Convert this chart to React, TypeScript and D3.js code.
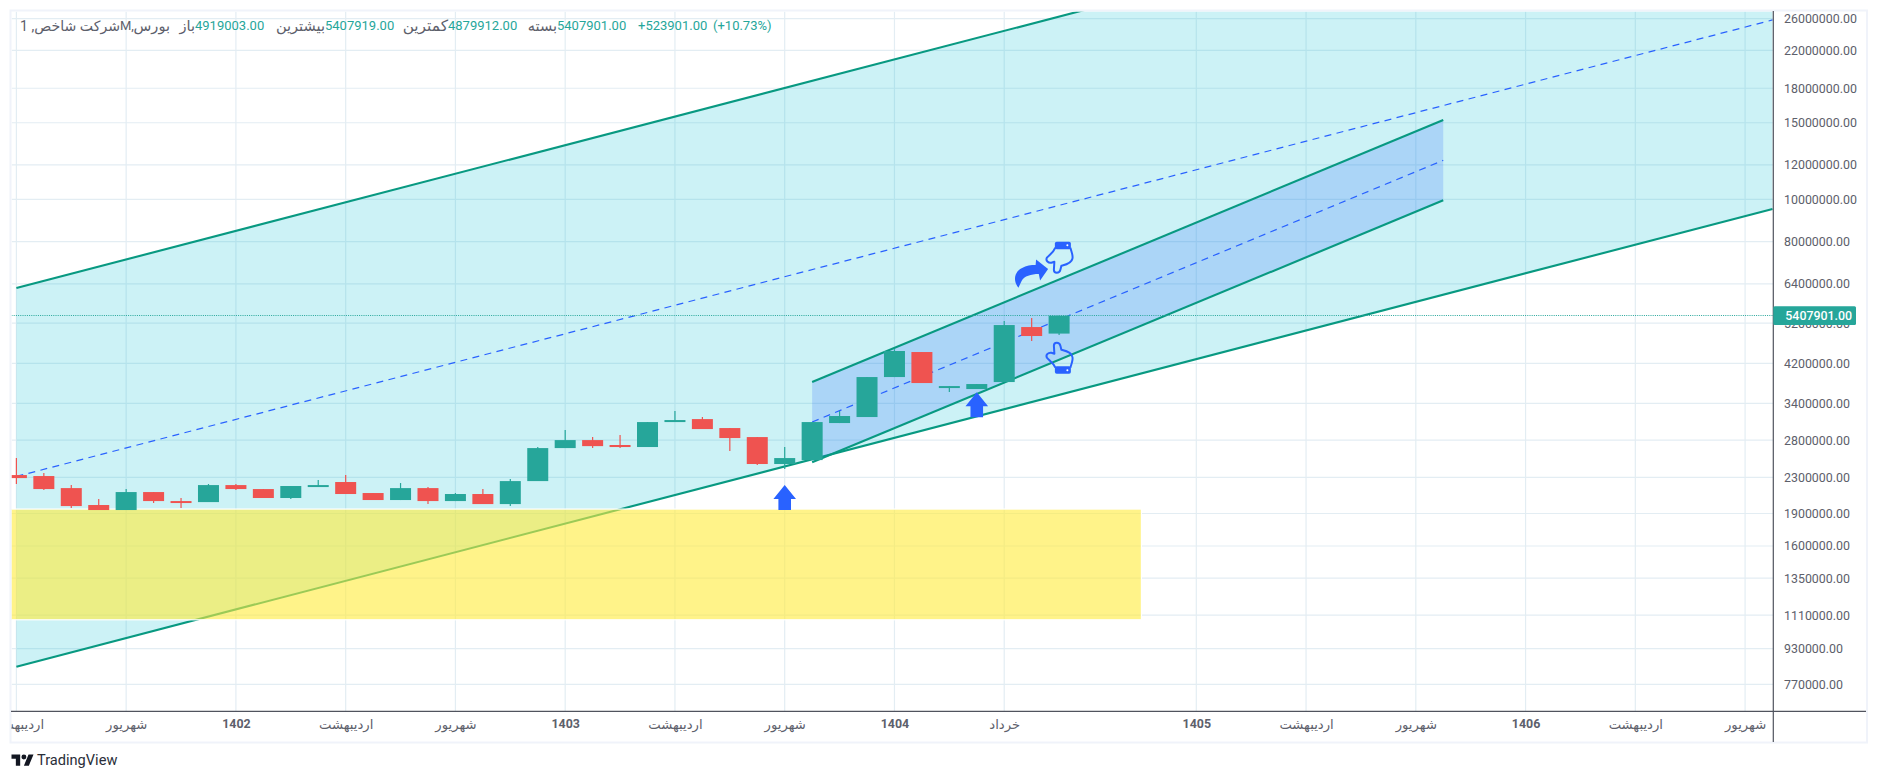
import * as d3 from "d3";
import { useEffect, useRef } from "react";

const opens = [2328000, 2316000, 2173000, 1987000, 1935000, 2128000, 2029000, 2018000, 2208000, 2162000, 2062000, 2185000, 2244000, 2117000, 2040000, 2173000, 2029000, 2106000, 1997000, 2255000, 2685000, 2801000, 2729000, 2700000, 3081000, 3130000, 2985000, 2846000, 2468000, 2520000, 3065000, 3164000, 3909000, 4462000, 3688000, 3669000, 3807000, 5092000, 4919003];
const highs = [2547000, 2353000, 2208000, 2051000, 2162000, 2128000, 2062000, 2220000, 2220000, 2162000, 2197000, 2267000, 2328000, 2117000, 2232000, 2185000, 2117000, 2162000, 2279000, 2700000, 2954000, 2846000, 2877000, 3081000, 3266000, 3164000, 2985000, 2846000, 2700000, 3081000, 3266000, 3909000, 4530000, 4462000, 3727000, 3767000, 5256000, 5341000, 5407919];
const lows = [2220000, 2151000, 1955000, 1935000, 1935000, 2008000, 1955000, 2018000, 2151000, 2062000, 2051000, 2185000, 2106000, 2040000, 2040000, 1997000, 2029000, 1997000, 1976000, 2255000, 2685000, 2685000, 2685000, 2700000, 3081000, 2969000, 2643000, 2455000, 2403000, 2520000, 3065000, 3164000, 3909000, 3787000, 3611000, 3669000, 3807000, 4729000, 4879912];
const closes = [2291000, 2162000, 1976000, 1935000, 2128000, 2029000, 2008000, 2208000, 2162000, 2062000, 2197000, 2208000, 2106000, 2040000, 2173000, 2029000, 2106000, 1997000, 2255000, 2685000, 2801000, 2713000, 2700000, 3081000, 3114000, 2969000, 2831000, 2468000, 2547000, 3081000, 3181000, 3909000, 4486000, 3787000, 3727000, 3767000, 5146000, 4856000, 5407901];

const lastPrice = 5407901;

const priceTicks = [26000000, 22000000, 18000000, 15000000, 12000000, 10000000, 8000000, 6400000, 5200000, 4200000, 3400000, 2800000, 2300000, 1900000, 1600000, 1350000, 1110000, 930000, 770000];

const timeTickBars = [0, 4, 8, 12, 16, 20, 24, 28, 32, 36, 43, 47, 51, 55, 59, 63];
const timeTickLabels = ["اردیبهشت", "شهریور", "1402", "اردیبهشت", "شهریور", "1403", "اردیبهشت", "شهریور", "1404", "خرداد", "1405", "اردیبهشت", "شهریور", "1406", "اردیبهشت", "شهریور"];

// drawings, as [bar, price] anchors
const bigUpper: [number, number][] = [[0, 6259000], [64, 70200000]];
const bigMiddle: [number, number][] = [[0, 2311000], [64, 25830000]];
const bigLower: [number, number][] = [[0, 845300], [64, 9509000]];
const smallUpper: [number, number][] = [[29, 3807000], [52, 15217000]];
const smallMiddle: [number, number][] = [[29, 3081000], [52, 12296000]];
const smallLower: [number, number][] = [[29, 2490000], [52, 9951000]];
const zoneBars = [-1, 41];
const zonePrices = [1945000, 1083000];
const upArrows: [number, number][] = [[28, 2208000], [35, 3605000]];
const curvedArrowAt: [number, number] = [35.85, 8733000];
const handDownAt: [number, number] = [37.5, 7995000];
const handUpAt: [number, number] = [37.5, 4712000];

const headerChunks = [
    { text: "شرکت شاخص, 1", end: 120, start: 21, rtl: true, value: false, size: 14.1 },
    { text: "M,", start: 120, rtl: false, value: false, size: 13 },
    { text: "بورس", end: 170, start: 138, rtl: true, value: false, size: 14.6 },
    { text: "باز", end: 195, start: 182, rtl: true, value: false, size: 14.6 },
    { text: "4919003.00", start: 195, rtl: false, value: true, size: 13 },
    { text: "بیشترین", end: 325, start: 275, rtl: true, value: false, size: 14.6 },
    { text: "5407919.00", start: 325, rtl: false, value: true, size: 13 },
    { text: "کمترین", end: 448, start: 405, rtl: true, value: false, size: 15.4 },
    { text: "4879912.00", start: 448, rtl: false, value: true, size: 13 },
    { text: "بسته", end: 557, start: 528, rtl: true, value: false, size: 14.6 },
    { text: "5407901.00", start: 557, rtl: false, value: true, size: 13 },
    { text: "+523901.00", start: 638, rtl: false, value: true, size: 13 },
    { text: "(+10.73%)", start: 713, rtl: false, value: true, size: 13 },
];

const GREEN = "#26a69a";
const RED = "#ef5350";
const TEAL = "#089981";
const BLUE = "#2962ff";
const FONT = "Roboto, 'DejaVu Sans', sans-serif";

export default function App() {
    const ref = useRef<SVGSVGElement | null>(null);

    useEffect(() => {
        if (!ref.current) return;
        const svg = d3.select(ref.current);
        svg.selectAll("*").remove();

        const width = 1878;
        const height = 781;
        const left = 11.5;
        const top = 11.5;
        const axisX = 1773.3;
        const axisY = 711.3;

        const x = d3.scaleLinear().domain([0, 38]).range([16.4, 1059.1]);
        const y = d3.scaleLog().domain([770000, 22000000]).range([684.3, 50.3]);

        svg.attr("width", width)
            .attr("height", height)
            .style("position", "absolute")
            .style("left", 0)
            .style("top", 0)
            .style("background", "#fff")
            .style("font-family", FONT);

        svg.append("defs")
            .append("clipPath")
            .attr("id", "plot")
            .append("rect")
            .attr("x", left)
            .attr("y", top)
            .attr("width", axisX - left)
            .attr("height", axisY - top);
        svg.select("defs")
            .append("clipPath")
            .attr("id", "timeAxis")
            .append("rect")
            .attr("x", left)
            .attr("y", axisY)
            .attr("width", axisX - left)
            .attr("height", 32);

        const g = svg.append("g").attr("clip-path", "url(#plot)");

        // grid
        g.selectAll("line.h")
            .data(priceTicks)
            .join("line")
            .attr("class", "h")
            .attr("x1", left)
            .attr("x2", axisX)
            .attr("y1", (d) => y(d))
            .attr("y2", (d) => y(d))
            .attr("stroke", "#e3edf3")
            .attr("stroke-width", 1.2);
        g.selectAll("line.v")
            .data(timeTickBars)
            .join("line")
            .attr("class", "v")
            .attr("x1", (d) => x(d))
            .attr("x2", (d) => x(d))
            .attr("y1", top)
            .attr("y2", axisY)
            .attr("stroke", "#e3edf3")
            .attr("stroke-width", 1.2);

        const line = d3
            .line<[number, number]>()
            .x((d) => x(d[0]))
            .y((d) => y(d[1]));
        const band = (a: [number, number][], b: [number, number][]) =>
            line([a[0], a[1], b[1], b[0]]) + "Z";

        const channel = (
            upper: [number, number][],
            middle: [number, number][],
            lower: [number, number][],
            fill: string,
        ) => {
            g.append("path").attr("d", band(upper, lower)).attr("fill", fill);
            [upper, lower].forEach((l) =>
                g.append("path")
                    .attr("d", line(l))
                    .attr("fill", "none")
                    .attr("stroke", TEAL)
                    .attr("stroke-width", 2.1),
            );
            g.append("path")
                .attr("d", line(middle))
                .attr("fill", "none")
                .attr("stroke", BLUE)
                .attr("stroke-width", 1.2)
                .attr("stroke-dasharray", "7 5.4");
        };

        channel(bigUpper, bigMiddle, bigLower, "rgba(0,188,212,0.2)");
        channel(smallUpper, smallMiddle, smallLower, "rgba(41,98,255,0.2)");

        // yellow zone
        g.append("rect")
            .attr("x", x(zoneBars[0]))
            .attr("y", y(zonePrices[0]))
            .attr("width", x(zoneBars[1]) - x(zoneBars[0]))
            .attr("height", y(zonePrices[1]) - y(zonePrices[0]))
            .attr("fill", "rgba(255,235,59,0.6)")
            .attr("stroke", "#fff")
            .attr("stroke-width", 1.2);

        // last price line, snapped to the pixel so the dots stay crisp
        g.append("line")
            .attr("x1", left)
            .attr("x2", axisX)
            .attr("y1", Math.floor(y(lastPrice)) + 0.5)
            .attr("y2", Math.floor(y(lastPrice)) + 0.5)
            .attr("stroke", GREEN)
            .attr("stroke-width", 1)
            .attr("stroke-dasharray", "1 1.2");

        // candles
        const bodyWidth = 21;
        const candles = g
            .selectAll("g.candle")
            .data(closes.map((c, i) => ({ i, o: opens[i], h: highs[i], l: lows[i], c })))
            .join("g")
            .attr("class", "candle");
        candles
            .append("line")
            .attr("x1", (d) => x(d.i))
            .attr("x2", (d) => x(d.i))
            .attr("y1", (d) => y(d.h))
            .attr("y2", (d) => y(d.l))
            .attr("stroke", (d) => (d.c >= d.o ? GREEN : RED))
            .attr("stroke-width", 1.2);
        candles
            .append("rect")
            .attr("x", (d) => x(d.i) - bodyWidth / 2)
            .attr("width", bodyWidth)
            .attr("y", (d) => y(Math.max(d.o, d.c)))
            .attr("height", (d) => Math.max(1, Math.abs(y(d.o) - y(d.c))))
            .attr("fill", (d) => (d.c >= d.o ? GREEN : RED));

        // arrows and hands
        g.selectAll("path.up")
            .data(upArrows)
            .join("path")
            .attr("class", "up")
            .attr("transform", (d) => `translate(${x(d[0])},${y(d[1])})`)
            .attr("d", "M0,0L11.3,14H6.3V25H-6.3V14H-11.3Z")
            .attr("fill", BLUE);

        g.append("path")
            .attr("transform", `translate(${x(curvedArrowAt[0])},${y(curvedArrowAt[1])})`)
            .attr("d", "M18.3,62.7C12,55 15,46 22,43C26,40.5 31,40 35.5,40L36,34.5L48,44L40,55.5L38.7,49C31,49 24,51 21.5,56Z")
            .attr("fill", BLUE);

        const hand = (at: [number, number], flip: boolean) => {
            const h = g
                .append("g")
                .attr("transform", `translate(${x(at[0])},${y(at[1])})${flip ? " translate(0,32) scale(1,-1)" : ""}`);
            h.append("path")
                .attr("d", "M10,6C8,11 4,13 1.5,16C0,19 3,21.5 6,21L9,20L8.5,28C8.5,32 14,32 15,28L16,24C20,23 26,22 27,17C28,14 26,10 25,6")
                .attr("fill", "none")
                .attr("stroke", BLUE)
                .attr("stroke-width", 2)
                .attr("stroke-linejoin", "round");
            h.append("rect")
                .attr("x", 9.5)
                .attr("y", 0)
                .attr("width", 16)
                .attr("height", 7.5)
                .attr("rx", 1.8)
                .attr("fill", BLUE);
            h.append("circle").attr("cx", 22).attr("cy", 3.5).attr("r", 1).attr("fill", "#fff");
        };
        hand(handDownAt, false);
        hand(handUpAt, true);

        // frame and axes
        svg.append("rect")
            .attr("x", 10.5)
            .attr("y", 10.5)
            .attr("width", 1856.5)
            .attr("height", 732)
            .attr("fill", "none")
            .attr("stroke", "#f0f3fa")
            .attr("stroke-width", 2);

        const yAxis = svg
            .append("g")
            .attr("transform", `translate(${axisX},0)`)
            .call(
                d3
                    .axisRight(y)
                    .tickValues(priceTicks)
                    .tickSize(0)
                    .tickPadding(10.7)
                    .tickFormat((d) => d3.format(".2f")(+d)),
            );
        yAxis.select(".domain").remove();
        yAxis.selectAll("text")
            .attr("font-family", FONT)
            .attr("font-size", 12.4)
            .attr("fill", "#5d606b");

        const xAxis = svg
            .append("g")
            .attr("clip-path", "url(#timeAxis)")
            .append("g")
            .attr("transform", `translate(0,${axisY})`)
            .call(
                d3
                    .axisBottom(x)
                    .tickValues(timeTickBars)
                    .tickSize(0)
                    .tickPadding(8)
                    .tickFormat((_, i) => timeTickLabels[i]),
            );
        xAxis.select(".domain").remove();
        xAxis.selectAll("text")
            .attr("font-family", FONT)
            .attr("font-size", (_, i) => (/^\d+$/.test(timeTickLabels[i]) ? 12.4 : 13.2))
            .attr("font-weight", (_, i) => (/^\d+$/.test(timeTickLabels[i]) ? 700 : 400))
            .attr("fill", "#5d606b");

        svg.append("line")
            .attr("x1", axisX)
            .attr("x2", axisX)
            .attr("y1", top - 0.5)
            .attr("y2", 742)
            .attr("stroke", "#50535e")
            .attr("stroke-width", 1.2);
        svg.append("line")
            .attr("x1", left - 0.5)
            .attr("x2", 1866)
            .attr("y1", axisY)
            .attr("y2", axisY)
            .attr("stroke", "#50535e")
            .attr("stroke-width", 1.2);

        // last price label
        svg.append("rect")
            .attr("x", axisX)
            .attr("y", y(lastPrice) - 9.5)
            .attr("width", 82.7)
            .attr("height", 18.8)
            .attr("rx", 1.5)
            .attr("fill", GREEN);
        svg.append("text")
            .attr("x", axisX + 12)
            .attr("y", y(lastPrice))
            .attr("dy", "0.35em")
            .attr("font-size", 12.4)
            .attr("font-weight", 500)
            .attr("fill", "#fff")
            .text(d3.format(".2f")(lastPrice));

        // header
        svg.selectAll("text.head")
            .data(headerChunks)
            .join("text")
            .attr("class", "head")
            .attr("x", (d) => (d.rtl ? d.end! : d.start))
            .attr("y", 25.7)
            .attr("dy", "0.35em")
            .attr("font-size", (d) => d.size)
            .attr("direction", (d) => (d.rtl ? "rtl" : "ltr"))
            .attr("fill", (d) => (d.value ? GREEN : "#5d606b"))
            .text((d) => d.text);

        // logo
        const logo = svg.append("g").attr("transform", "translate(11.5,752) scale(0.62)");
        logo.append("path")
            .attr("d", "M14 22H7V11H0V4h14v18zM28 22h-8l7.5-18h8L28 22z")
            .attr("fill", "#131722");
        logo.append("circle").attr("cx", 20).attr("cy", 8).attr("r", 4).attr("fill", "#131722");
        svg.append("text")
            .attr("x", 37)
            .attr("y", 760)
            .attr("dy", "0.35em")
            .attr("font-size", 14.6)
            .attr("fill", "#2a2e39")
            .text("TradingView");
    }, []);

    return <svg ref={ref}></svg>;
}
